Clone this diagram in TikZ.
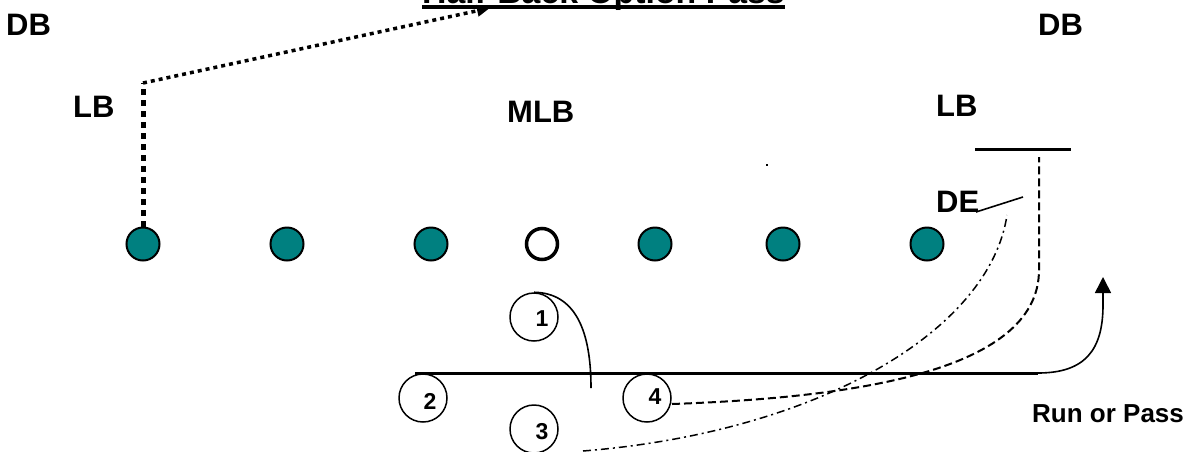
\documentclass[tikz,border=0pt]{standalone}
\usepackage{fontspec}
\setmainfont{Liberation Sans}
\usetikzlibrary{arrows.meta}
\definecolor{teal}{RGB}{0,128,128}
\tikzset{
  lbl/.style={anchor=base west, inner sep=0pt, font=\fontsize{31}{31}\selectfont\bfseries},
  lineman/.style={circle, draw=black, fill=teal, line width=2pt, minimum size=33pt, inner sep=0pt},
  center/.style={circle, draw=black, fill=white, line width=3.5pt, minimum size=31pt, inner sep=0pt},
  back/.style={circle, draw=black, line width=1.5pt, minimum size=48pt, inner sep=0pt},
  num/.style={inner sep=0pt, font=\fontsize{23}{23}\selectfont\bfseries},
  route/.style={line width=1.6pt},
  dashroute/.style={line width=2pt, dash pattern=on 8pt off 4pt},
  dashdot/.style={line width=1.5pt, dash pattern=on 8pt off 4pt on 2pt off 4pt},
}
\begin{document}
\begin{tikzpicture}[x=1pt,y=-1pt]
\useasboundingbox (0,0) rectangle (1192,451);
% title
\node[anchor=base west, inner sep=0pt, font=\fontsize{33.8}{34}\selectfont\bfseries] (title) at (422,3) {Half-Back Option Pass};
\draw[line width=4pt] (422,7) -- (785,7);
% labels
\node[lbl] (db1) at (6,35) {DB};
\node[lbl] (db2) at (1038,35) {DB};
\node[lbl] (lb1) at (73,117) {LB};
\node[lbl] (mlb) at (507,122) {MLB};
\node[lbl] (lb2) at (936,116) {LB};
\node[lbl] (de) at (936,212) {DE};
\node[anchor=base west, inner sep=0pt, font=\fontsize{26}{26}\selectfont\bfseries] (rp) at (1032,422) {Run or Pass};
% line
\node[lineman] (l1) at (143,244) {};
\node[lineman] (l2) at (287,244) {};
\node[lineman] (l3) at (431,244) {};
\node[center] (c) at (542,244) {};
\node[lineman] (r3) at (655,244) {};
\node[lineman] (r2) at (783,244) {};
\node[lineman] (r1) at (927,244) {};
% backs
\node[back] (b1) at (534,317) {};
\node[num] at ([xshift=8pt,yshift=-2pt]b1.center) {1};
\node[back] (b2) at (423,398) {};
\node[num] at ([xshift=7pt,yshift=-3pt]b2.center) {2};
\node[back] (b3) at (534,429) {};
\node[num] at ([xshift=8pt,yshift=-3pt]b3.center) {3};
\node[back] (b4) at (647,398) {};
\node[num] at ([xshift=8pt,yshift=1pt]b4.center) {4};
% coordinates
\coordinate (lbturn) at (143,83);
\coordinate (tip) at (490,8);
\coordinate (lsA) at (415,373);
\coordinate (lsB) at (1038,373);
\coordinate (arr) at (1103,277);
\coordinate (b1end) at (591,388);
\coordinate (b4s) at (672,404);
\coordinate (vtop) at (1039,157);
\coordinate (b3s) at (583,451);
\coordinate (dds) at (1007,215);
\coordinate (bl1) at (975,149);
\coordinate (bl2) at (1071,149);
\coordinate (de1) at (976,212);
\coordinate (de2) at (1023,197);
% LB blitz (dotted)
\draw[line width=5pt, dash pattern=on 6pt off 5pt] (l1.north) -- (lbturn);
\draw[line width=3.5pt, dash pattern=on 4pt off 4pt, -{Triangle[length=13pt,width=11pt]}] (lbturn) -- (tip);
% back 1 route
\draw[route] (b1.north) .. controls (575,293) and (591,330) .. (b1end);
% long line and run arrow
\draw[line width=3pt] (lsA) -- (lsB);
\draw[route, -{Triangle[length=16pt,width=16pt]}] (lsB) .. controls (1085,373) and (1103,350) .. (1103,305) -- (arr);
% back 4 route (dashed)
\draw[dashroute] (b4s) .. controls (840,398) and (1039,375) .. (1039,270) -- (vtop);
% back 3 route (dash-dot)
\draw[dashdot] (b3s) .. controls (820,432) and (990,330) .. (dds);
% block lines
\draw[line width=3pt] (bl1) -- (bl2);
\draw[line width=1.6pt] (de1) -- (de2);
% tiny mark
\fill (766,164) rectangle (768,166);
\end{tikzpicture}
\end{document}
